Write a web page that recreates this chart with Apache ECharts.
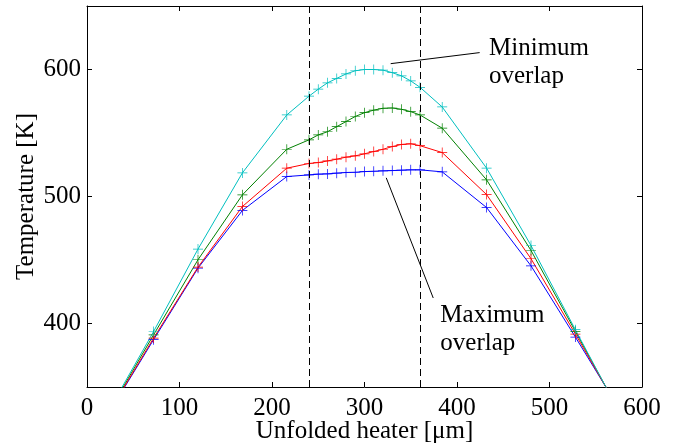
<!DOCTYPE html>
<html>
<head>
<meta charset="utf-8">
<script src="https://cdn.jsdelivr.net/npm/echarts@6/dist/echarts.min.js"></script>
<style>
  html, body { margin: 0; padding: 0; background: #fff; }
  #main { width: 677px; height: 447px; }
</style>
</head>
<body>
<div id="main"></div>
<script>
// 图表初始化
var chart = echarts.init(document.getElementById('main'));

// 横坐标 (µm)
var positions = [24, 72, 120, 168, 216, 240, 250, 260, 270, 280, 290, 300, 310, 320, 330, 340, 350, 360, 384, 432, 480, 528, 576];

// 温度 (K)
var blueTemp  = [330, 387.3, 443.6, 489, 515.7, 517, 517.6, 517.8, 518.4, 518.9, 519.1, 519.6, 519.9, 520.2, 520.4, 520.7, 521, 521, 519.4, 491.3, 445.4, 389.3, 332];
var greenTemp = [331, 391.1, 450.2, 501.3, 537.2, 544.6, 548.5, 551, 555, 559, 563, 566, 568, 569.5, 569.7, 568.7, 566.8, 564.2, 553.8, 513.1, 457.5, 393.8, 330];
var redTemp   = [330.5, 388.5, 444.4, 492.1, 522.3, 526, 526.7, 528, 529.4, 531, 532, 533.6, 535.4, 537.2, 539.3, 541, 541.5, 540, 534.6, 501.5, 451, 391.7, 331];
var cyanTemp  = [332, 393.7, 458.6, 518.6, 564.2, 579, 584.5, 589.5, 593, 596.5, 599, 600, 600, 599.5, 597.5, 595, 591, 586, 570.5, 522.3, 461.4, 395.1, 329.5];

var yTicks = [400, 500, 600];
var overlapBounds = [240, 360];

var FONT = 'Liberation Serif';

function pairs(xs, ys) {
  var out = [];
  for (var i = 0; i < xs.length; i++) out.push([xs[i], ys[i]]);
  return out;
}

function makeSeries(name, color, temps) {
  return {
    name: name,
    type: 'line',
    data: pairs(positions, temps),
    symbol: 'path://M-0.07,-1 L0.07,-1 L0.07,-0.07 L1,-0.07 L1,0.07 L0.07,0.07 L0.07,1 L-0.07,1 L-0.07,0.07 L-1,0.07 L-1,-0.07 L-0.07,-0.07 Z',
    symbolSize: 10,
    showSymbol: true,
    clip: true,
    animation: false,
    lineStyle: { color: color, width: 1 },
    itemStyle: { color: color },
    emphasis: { disabled: true }
  };
}

var series = [
  makeSeries('blue', '#0000ff', blueTemp),
  makeSeries('green', '#008000', greenTemp),
  makeSeries('red', '#ff0000', redTemp),
  makeSeries('cyan', '#00bfbf', cyanTemp)
];

// 虚线和注释线
series[0].markLine = {
  silent: true,
  symbol: 'none',
  animation: false,
  label: { show: false },
  lineStyle: { color: '#000', type: [7, 4], width: 1 },
  data: [
    { xAxis: overlapBounds[0] },
    { xAxis: overlapBounds[1] },
    [{ coord: [328.3, 604.6], lineStyle: { type: 'solid', color: '#000', width: 1 } }, { coord: [424.5, 613.3] }],
    [{ coord: [323.5, 514.7], lineStyle: { type: 'solid', color: '#000', width: 1 } }, { coord: [374.3, 420.1] }]
  ]
};

var tickLabelStyle = { fontFamily: FONT, fontSize: 25, color: '#000' };

var option = {
  backgroundColor: '#fff',
  animation: false,
  grid: { left: 87, top: 6, right: 35, bottom: 60, containLabel: false, outerBoundsMode: 'none' },
  xAxis: [
    {
      type: 'value', min: 0, max: 600, interval: 100,
      position: 'bottom',
      name: 'Unfolded heater [μm]',
      nameLocation: 'middle',
      nameGap: 32,
      nameMoveOverlap: false,
      nameTextStyle: { fontFamily: FONT, fontSize: 25, color: '#000' },
      axisLine: { show: true, onZero: false, lineStyle: { color: '#000', width: 1 } },
      axisTick: { show: true, inside: true, length: 5, lineStyle: { color: '#000' } },
      axisLabel: Object.assign({ margin: 9 }, tickLabelStyle),
      splitLine: { show: false }
    },
    {
      type: 'value', min: 0, max: 600, interval: 100,
      position: 'top',
      axisLine: { show: true, onZero: false, lineStyle: { color: '#000', width: 1 } },
      axisTick: { show: true, inside: true, length: 5, lineStyle: { color: '#000' } },
      axisLabel: { show: false },
      splitLine: { show: false }
    }
  ],
  yAxis: [
    {
      type: 'value', min: 350, max: 650, interval: 50,
      position: 'left',
      name: 'Temperature [K]',
      nameLocation: 'middle',
      nameGap: 48,
      nameMoveOverlap: false,
      nameTextStyle: { fontFamily: FONT, fontSize: 25, color: '#000' },
      axisLine: { show: true, onZero: false, lineStyle: { color: '#000', width: 1 } },
      axisTick: { show: true, inside: true, length: 5, customValues: yTicks, lineStyle: { color: '#000' } },
      axisLabel: Object.assign({ margin: 6, customValues: yTicks }, tickLabelStyle),
      splitLine: { show: false }
    },
    {
      type: 'value', min: 350, max: 650, interval: 50,
      position: 'right',
      axisLine: { show: true, onZero: false, lineStyle: { color: '#000', width: 1 } },
      axisTick: { show: true, inside: true, length: 5, customValues: yTicks, lineStyle: { color: '#000' } },
      axisLabel: { show: false },
      splitLine: { show: false }
    }
  ],
  series: series
};

chart.setOption(option);

// 文字注释 (用数据坐标定位)
var notes = [
  { text: 'Minimum\noverlap', at: [434.6, 628] },
  { text: 'Maximum\noverlap', at: [382, 417.3] }
];
chart.setOption({
  graphic: notes.map(function (n) {
    var p = chart.convertToPixel({ gridIndex: 0 }, n.at);
    return {
      type: 'text',
      x: p[0], y: p[1],
      silent: true,
      style: {
        text: n.text,
        fontFamily: FONT,
        fontSize: 25,
        lineHeight: 28,
        fill: '#000',
        textAlign: 'left',
        textVerticalAlign: 'top'
      }
    };
  })
});
</script>
</body>
</html>
